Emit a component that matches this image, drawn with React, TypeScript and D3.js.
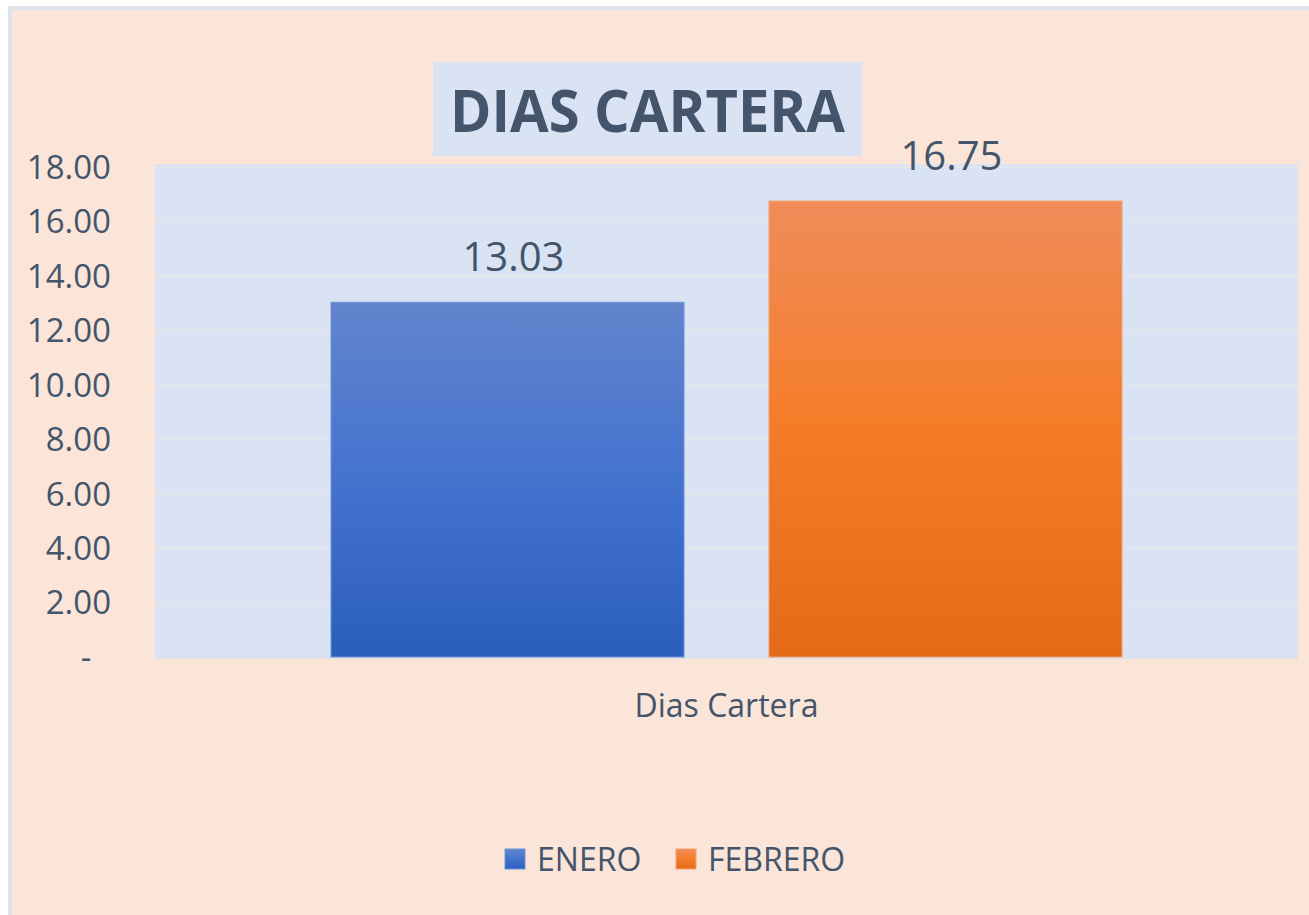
import React from "react";
import * as d3 from "d3";

const categories = ["Dias Cartera"];
const seriesNames = ["ENERO", "FEBRERO"];
const seriesValues = [13.03, 16.75];
const yTicks = [0, 2, 4, 6, 8, 10, 12, 14, 16, 18];
const title = "DIAS CARTERA";

const W = 1309;
const H = 915;
const plot = { left: 155, right: 1298, top: 164, bottom: 659 };
const textColor = "#44546a";
const font = "'Open Sans', sans-serif";

export default function App() {
  const y = d3.scaleLinear().domain([0, 18]).range([657, 167]);
  const x0 = d3.scaleBand().domain(categories).range([plot.left, plot.right]).paddingInner(0).paddingOuter(0.2225);
  const x1 = d3.scaleBand().domain(seriesNames).range([0, x0.bandwidth()]).paddingInner(0.194);
  const fmt = (v: number) => (v === 0 ? "-" : d3.format(".2f")(v));
  const grads = [
    { id: "gBlue", top: "#6384cd", mid: "#4574cf", bottom: "#2b5ebd", stroke: "#7292d6" },
    { id: "gOrange", top: "#f08c5a", mid: "#f57d2a", bottom: "#e46a17", stroke: "#f2a070" },
  ];
  return (
    <svg width={W} height={H} style={{ position: "absolute", left: 0, top: 0 }}>
      <defs>
        {grads.map((g) => (
          <linearGradient key={g.id} id={g.id} x1="0" y1="0" x2="0" y2="1">
            <stop offset="0%" stopColor={g.top} />
            <stop offset="48%" stopColor={g.mid} />
            <stop offset="100%" stopColor={g.bottom} />
          </linearGradient>
        ))}
      </defs>
      <rect x={0} y={0} width={W} height={H} fill="#ffffff" />
      <rect x={10} y={8} width={W + 20} height={H + 20} fill="#fae5d8" stroke="#dde3ea" strokeWidth={4} />
      <rect x={plot.left} y={plot.top} width={plot.right - plot.left} height={plot.bottom - plot.top} fill="#dae3f3" />
      {yTicks.map((t) => (
        <g key={t}>
          {t > 0 && (
            <line x1={plot.left} x2={plot.right} y1={y(t)} y2={y(t)} stroke="#e3e6ec" strokeWidth={2} />
          )}
          <text
            x={t === 0 ? 86 : 111}
            y={y(t)}
            dy="0.36em"
            textAnchor={t === 0 ? "middle" : "end"}
            fontFamily={font}
            fontSize={33}
            fill={textColor}
          >
            {fmt(t)}
          </text>
        </g>
      ))}
      <line x1={plot.left} x2={plot.right} y1={y(0) + 1} y2={y(0) + 1} stroke="#dde1e8" strokeWidth={2} />
      {categories.map((c) => (
        <g key={c} transform={`translate(${x0(c)},0)`}>
          {seriesNames.map((s, i) => {
            const v = seriesValues[i];
            const bx = x1(s)!;
            return (
              <g key={s}>
                <rect
                  x={bx}
                  y={y(v)}
                  width={x1.bandwidth()}
                  height={y(0) - y(v)}
                  fill={`url(#${grads[i].id})`}
                  stroke={grads[i].stroke}
                  strokeWidth={1}
                />
                <text
                  x={bx + x1.bandwidth() / 2 + 6}
                  y={y(v) - 31}
                  textAnchor="middle"
                  fontFamily={font}
                  fontSize={40}
                  fill={textColor}
                >
                  {d3.format(".2f")(v)}
                </text>
              </g>
            );
          })}
          <text x={x0.bandwidth() / 2} y={717} textAnchor="middle" fontFamily={font} fontSize={32} fill={textColor}>
            {c}
          </text>
        </g>
      ))}
      <rect x={433} y={62} width={429} height={94} fill="#dae3f3" />
      <text x={450} y={132} fontFamily={font} fontWeight={700} fontSize={59} fill={textColor} textLength={395} lengthAdjust="spacingAndGlyphs">
        {title}
      </text>
      {seriesNames.map((s, i) => {
        const lx = [505, 676][i];
        return (
          <g key={s}>
            <rect x={lx} y={849} width={20} height={20} fill={`url(#${grads[i].id})`} stroke={grads[i].stroke} strokeWidth={1} />
            <text x={lx + 32} y={871} fontFamily={font} fontSize={32} fill={textColor}>
              {s}
            </text>
          </g>
        );
      })}
    </svg>
  );
}
